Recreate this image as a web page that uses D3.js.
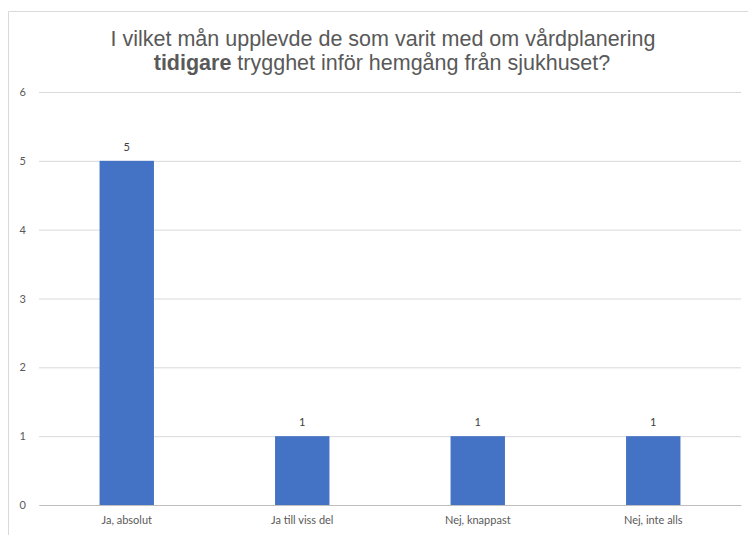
<!DOCTYPE html>
<html lang="sv">
	<head>
		<meta charset="utf-8">
		<title>Vårdplanering tidigare</title>
		<script type="text/javascript" src="https://cdn.jsdelivr.net/npm/d3@7"></script>
		<style type="text/css">
			body { margin: 0; background: #fff; }
		</style>
	</head>
	<body>
		<script type="text/javascript">

			// data
			var categories = ["Ja, absolut", "Ja till viss del", "Nej, knappast", "Nej, inte alls"];
			var values = [5, 1, 1, 1];
			var yTicks = [0, 1, 2, 3, 4, 5, 6];

			var w = 748;
			var h = 535;

			// plot edges (note: "top" would clash with window.top)
			var plotLeft = 39, plotRight = 741, plotTop = 92, plotBottom = 505;

			var xScale = d3.scaleBand()
				.domain(categories)
				.range([plotLeft, plotRight])
				.paddingInner(0.69)
				.paddingOuter(0.345);

			var yScale = d3.scaleLinear()
				.domain([0, 6])
				.range([plotBottom, plotTop]);

			var svg = d3.select("body")
				.append("svg")
				.attr("width", w)
				.attr("height", h);

			// chart frame (only top and left edges show in the picture)
			svg.append("path")
				.attr("d", "M8.5," + h + "V11.5H" + w)
				.attr("fill", "none")
				.attr("stroke", "#d9d9d9")
				.attr("stroke-width", 1);

			// title
			var title = svg.append("text")
				.attr("text-anchor", "middle")
				.attr("font-family", "'Liberation Sans', Arial, sans-serif")
				.attr("font-size", "21.5px")
				.attr("fill", "#595959");
			title.append("tspan")
				.attr("x", 383)
				.attr("y", 46)
				.text("I vilket mån upplevde de som varit med om vårdplanering");
			var line2 = title.append("tspan")
				.attr("x", 382)
				.attr("y", 70);
			line2.append("tspan").attr("font-weight", "bold").text("tidigare");
			line2.append("tspan").text(" trygghet inför hemgång från sjukhuset?");

			// y axis with gridlines
			var yAxis = d3.axisLeft(yScale)
				.tickValues(yTicks)
				.tickSize(-(plotRight - plotLeft))
				.tickPadding(13)
				.tickFormat(d3.format("d"));

			var gy = svg.append("g")
				.attr("transform", "translate(" + plotLeft + ",0)")
				.call(yAxis);
			gy.select(".domain").remove();
			gy.selectAll(".tick line")
				.attr("stroke", "#d9d9d9");
			gy.selectAll(".tick text")
				.attr("fill", "#595959")
				.attr("font-family", "Lato, 'Open Sans', sans-serif")
				.attr("font-size", "11px");

			// bars
			svg.selectAll("rect.bar")
				.data(values)
				.enter()
				.append("rect")
				.attr("class", "bar")
				.attr("x", function(d, i) { return xScale(categories[i]); })
				.attr("width", xScale.bandwidth())
				.attr("y", function(d) { return yScale(d); })
				.attr("height", function(d) { return yScale(0) - yScale(d); })
				.attr("fill", "#4472c4");

			// baseline and category labels
			var xAxis = d3.axisBottom(xScale)
				.tickSize(0)
				.tickPadding(11);

			var gx = svg.append("g")
				.attr("transform", "translate(0," + plotBottom + ")")
				.call(xAxis);
			gx.select(".domain")
				.attr("stroke", "#bfbfbf");
			gx.selectAll(".tick text")
				.attr("fill", "#595959")
				.attr("font-family", "Lato, 'Open Sans', sans-serif")
				.attr("font-size", "11px");

			// value labels
			svg.selectAll("text.val")
				.data(values)
				.enter()
				.append("text")
				.attr("class", "val")
				.attr("x", function(d, i) { return xScale(categories[i]) + xScale.bandwidth() / 2; })
				.attr("y", function(d) { return yScale(d) - 10; })
				.attr("text-anchor", "middle")
				.attr("font-family", "Lato, 'Open Sans', sans-serif")
				.attr("font-size", "11px")
				.attr("fill", "#404040")
				.text(function(d) { return d; });

		</script>
	</body>
</html>
